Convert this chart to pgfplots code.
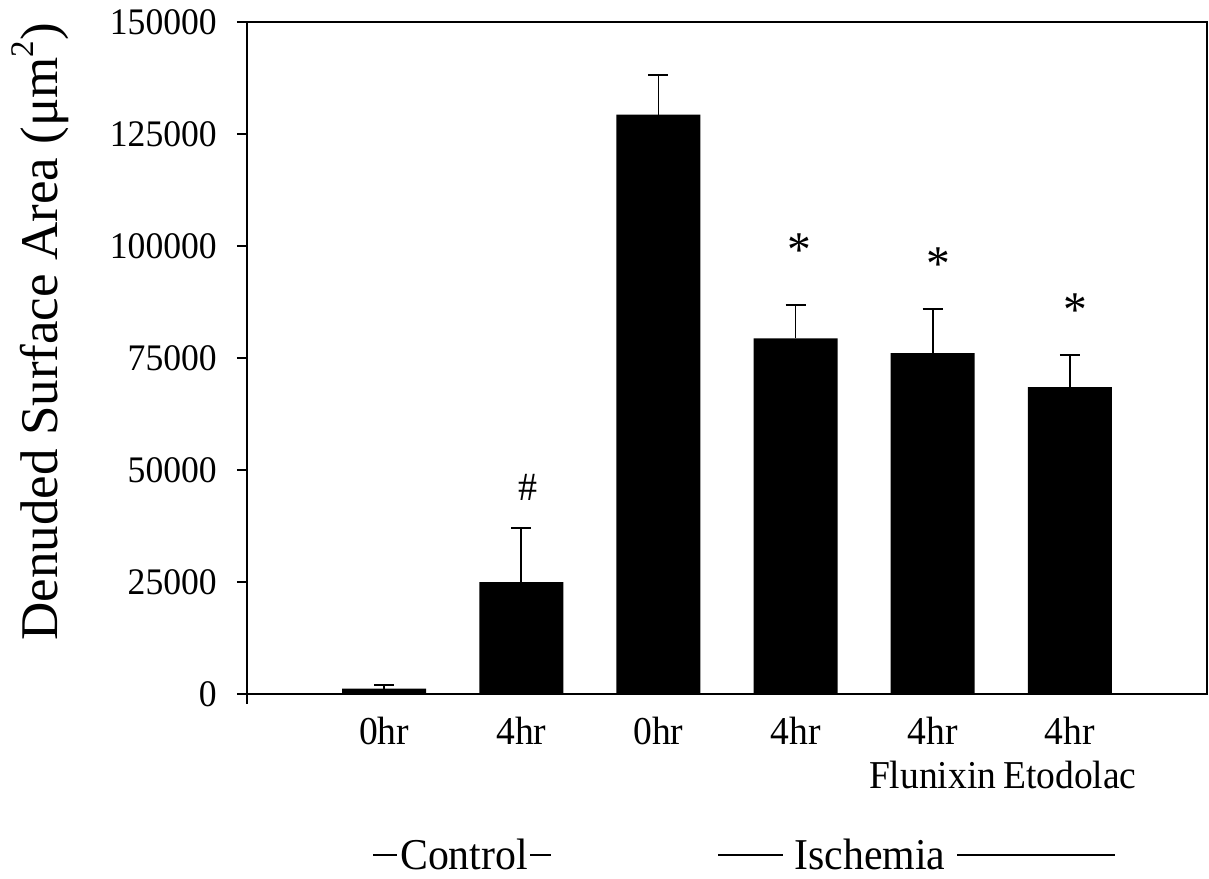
\documentclass[border=0pt]{standalone}
\usepackage{fontspec}
\setmainfont[FakeStretch=0.95]{Liberation Serif}
\newfontfamily\labelfont{Liberation Serif}
\usepackage{pgfplots}
\pgfplotsset{compat=1.18}
\pgfplotstableread{
x y e
1 1200 800
2 25000 12000
3 129300 8900
4 79400 7500
5 76100 9900
6 68500 7200
}\datatable
\begin{document}
\begin{tikzpicture}
\begin{axis}[
  at={(0,0)}, anchor=south west,
  scale only axis, width=960pt, height=672pt,
  xmin=0, xmax=7, ymin=0, ymax=150000,
  axis line style={line width=1.6pt},
  ybar, bar width=84pt,
  xtick={1,...,6},
  xticklabels={0hr,4hr,0hr,4hr,{4hr\\Flunixin},{4hr\\Etodolac}},
  xtick style={draw=none},
  xticklabel style={align=center, font=\fontsize{39.5}{44}\selectfont, inner sep=0pt, yshift=-13pt},
  ytick={0,25000,...,150000},
  ytick pos=left, xtick pos=bottom,
  tick align=outside,
  major tick length=10pt,
  ytick style={line width=1.6pt, black},
  scaled y ticks=false,
  yticklabel style={/pgf/number format/fixed, /pgf/number format/set thousands separator={}, /pgf/number format/assume math mode=true, font=\fontsize{37.5}{44}\selectfont, inner sep=0pt, xshift=-20pt},
  ylabel={\labelfont\fontsize{53}{60}\selectfont Denuded Surface Area (μm\raisebox{0.47em}{\fontsize{33}{36}\selectfont 2})},
  ylabel style={at={(axis description cs:-0.1849,0.539)}, anchor=south, inner sep=0pt},
]
\addplot[fill=black, draw=none,
  error bars/.cd, y dir=plus, y explicit, error mark=|,
  error bar style={line width=1.8pt, black},
  error mark options={line width=1.8pt, mark size=10pt, black, draw=black}]
  table[x=x, y=y, y error=e] {\datatable};
\node[font=\fontsize{40}{40}\selectfont] at (axis cs:2.05,46200) {\#};
\node[font=\fontsize{50}{50}\selectfont] at (axis cs:4.03,99000) {*};
\node[font=\fontsize{50}{50}\selectfont] at (axis cs:5.04,96000) {*};
\node[font=\fontsize{50}{50}\selectfont] at (axis cs:6.04,85700) {*};
\end{axis}
\draw[line width=1.6pt] (0,0) -- (0,-10pt);
\node[font=\fontsize{44}{48}\selectfont, anchor=base, inner sep=0pt] at (217pt,-175pt) {Control};
\node[font=\fontsize{44}{48}\selectfont, anchor=base, inner sep=0pt] at (623pt,-175pt) {Ischemia};
\draw[line width=1.8pt] (126pt,-161pt) -- (150pt,-161pt);
\draw[line width=1.8pt] (283pt,-161pt) -- (304pt,-161pt);
\draw[line width=1.8pt] (471pt,-161pt) -- (536pt,-161pt);
\draw[line width=1.8pt] (710pt,-161pt) -- (868pt,-161pt);
\pgfresetboundingbox
\path (-247pt,-184pt) rectangle (962pt,694pt);
\end{tikzpicture}
\end{document}
